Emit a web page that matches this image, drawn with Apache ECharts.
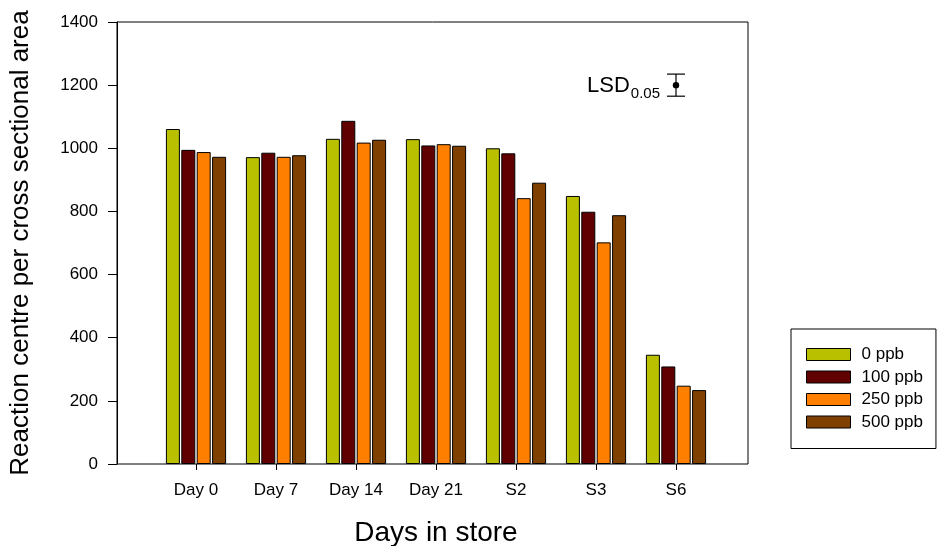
<!DOCTYPE html>
<html>
<head>
<meta charset="utf-8">
<script src="https://cdn.jsdelivr.net/npm/echarts@6/dist/echarts.min.js"></script>
<style>
  html, body { margin: 0; padding: 0; background: #fff; }
  #chart { width: 938px; height: 546px; }
</style>
</head>
<body>
<div id="chart"></div>
<script>
// Storage stages
const categories = ['Day 0', 'Day 7', 'Day 14', 'Day 21', 'S2', 'S3', 'S6'];

// Ethylene treatments
const seriesNames = ['0 ppb', '100 ppb', '250 ppb', '500 ppb'];
const values0 = [1061, 972, 1030, 1029, 1000, 849, 346];
const values100 = [995, 986, 1087, 1009, 984, 799, 309];
const values250 = [988, 973, 1018, 1013, 842, 702, 248];
const values500 = [973, 978, 1027, 1008, 891, 788, 234];
const seriesColors = ['#b8c000', '#600000', '#ff8000', '#804000'];

// Least significant difference bar: [category index, centre, half-width]
const lsdPoint = [[6, 1200, 35]];

const yTicks = { min: 0, max: 1400, interval: 200 };

const chart = echarts.init(document.getElementById('chart'), null, { renderer: 'canvas' });

const allValues = [values0, values100, values250, values500];
const barSeries = allValues.map((vals, i) => ({
  name: seriesNames[i],
  type: 'bar',
  xAxisIndex: 0,
  yAxisIndex: 0,
  data: vals,
  barWidth: 14,
  barGap: '10%',
  itemStyle: { color: seriesColors[i], borderColor: '#000', borderWidth: 1 },
  emphasis: { disabled: true },
  animation: false
}));

const lsdSeries = {
  type: 'custom',
  xAxisIndex: 0,
  yAxisIndex: 0,
  data: lsdPoint,
  silent: true,
  animation: false,
  renderItem: function (params, api) {
    const c = api.coord([api.value(0), api.value(1)]);
    const top = api.coord([api.value(0), api.value(1) + api.value(2)]);
    const bot = api.coord([api.value(0), api.value(1) - api.value(2)]);
    const hw = 9;
    const ls = { stroke: '#000', lineWidth: 1.2 };
    return {
      type: 'group',
      children: [
        { type: 'line', shape: { x1: c[0], y1: top[1], x2: c[0], y2: bot[1] }, style: ls },
        { type: 'line', shape: { x1: c[0] - hw, y1: top[1], x2: c[0] + hw, y2: top[1] }, style: ls },
        { type: 'line', shape: { x1: c[0] - hw, y1: bot[1], x2: c[0] + hw, y2: bot[1] }, style: ls },
        { type: 'circle', shape: { cx: c[0], cy: c[1], r: 3.2 }, style: { fill: '#000' } },
        {
          type: 'text',
          x: c[0] - 16,
          y: c[1] + 3,
          style: {
            text: '{a|LSD}{b|0.05}',
            align: 'right',
            verticalAlign: 'middle',
            fill: '#000',
            rich: {
              a: { fontSize: 22, fontFamily: 'Liberation Sans', lineHeight: 26, verticalAlign: 'top', padding: [0, 1, 0, 0] },
              b: { fontSize: 15, fontFamily: 'Liberation Sans', lineHeight: 26, verticalAlign: 'bottom', padding: [10, 0, 0, 0] }
            }
          }
        }
      ]
    };
  }
};

const option = {
  backgroundColor: '#fff',
  textStyle: { fontFamily: 'Liberation Sans', color: '#000' },
  grid: [
    { left: 156, top: 22, width: 560, height: 442, containLabel: false, outerBoundsMode: 'none' },
    { left: 117, top: 22, width: 631, height: 442, show: true, borderColor: '#000', borderWidth: 1, backgroundColor: 'transparent', containLabel: false, outerBoundsMode: 'none' }
  ],
  xAxis: [
    {
      type: 'category',
      gridIndex: 0,
      data: categories,
      axisLine: { show: false },
      axisTick: { show: true, alignWithLabel: true, length: 6, lineStyle: { color: '#000' } },
      axisLabel: { fontSize: 17, color: '#000', margin: 18, fontFamily: 'Liberation Sans' },
      name: 'Days in store',
      nameLocation: 'middle',
      nameGap: 55,
      nameTextStyle: { fontSize: 28, color: '#000', fontFamily: 'Liberation Sans' }
    },
    { type: 'value', gridIndex: 1, show: false, min: 0, max: 1 }
  ],
  yAxis: [
    { type: 'value', gridIndex: 0, show: false, min: yTicks.min, max: yTicks.max, interval: yTicks.interval },
    {
      type: 'value',
      gridIndex: 1,
      min: yTicks.min,
      max: yTicks.max,
      interval: yTicks.interval,
      splitLine: { show: false },
      axisLine: { show: true, lineStyle: { color: '#000' } },
      axisTick: { show: true, length: 9, lineStyle: { color: '#000' } },
      axisLabel: { fontSize: 17, color: '#000', margin: 19, fontFamily: 'Liberation Sans', formatter: v => String(v) },
      name: 'Reaction centre per cross sectional area',
      nameLocation: 'middle',
      nameGap: 83,
      nameTextStyle: { fontSize: 26, color: '#000', fontFamily: 'Liberation Sans' }
    }
  ],
  legend: {
    data: seriesNames,
    orient: 'vertical',
    left: 791,
    top: 329,
    itemWidth: 44,
    itemHeight: 12,
    itemGap: 5.5,
    itemStyle: { borderColor: '#000', borderWidth: 1 },
    padding: [17, 13, 18, 15],
    borderColor: '#000',
    borderWidth: 1,
    selectedMode: false,
    icon: 'rect',
    textStyle: { fontSize: 17, color: '#000', fontFamily: 'Liberation Sans', padding: [0, 0, 0, 6] }
  },
  series: barSeries.concat([lsdSeries])
};

chart.setOption(option);
</script>
</body>
</html>
